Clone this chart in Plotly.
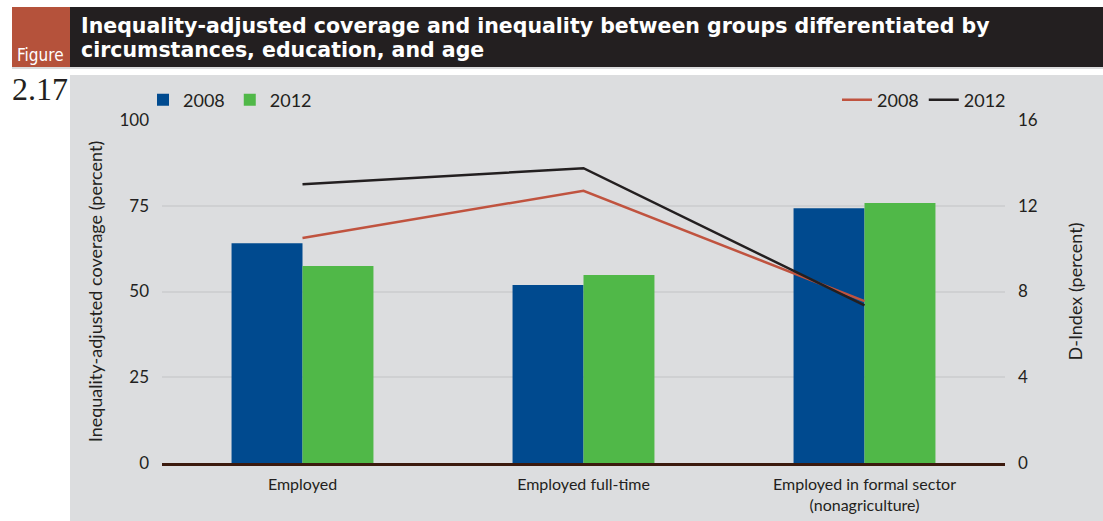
import plotly.graph_objects as go

# ---- data ----
categories = ["Employed", "Employed full-time", "Employed in formal sector<br>(nonagriculture)"]
coverage_2008 = [64.1, 51.9, 74.3]
coverage_2012 = [57.4, 54.8, 75.8]
dindex_2008 = [10.5, 12.7, 7.55]
dindex_2012 = [13.0, 13.75, 7.35]

# ---- layout geometry (pixels) ----
W, H = 1103, 521
PL, PR, PT, PB = 162, 1005, 120, 463


def px(x):
    return (x - PL) / (PR - PL)


def py(y):
    return (PB - y) / (PB - PT)


FONT = "Lato"
TXT = "#231f20"
BLUE = "#004a8f"
GREEN = "#50b848"
RED = "#c0533f"
BLACK = "#231f20"
PANEL = "#dcdddf"
GRID = "#cfd0d2"

fig = go.Figure()
fig.add_trace(go.Bar(x=categories, y=coverage_2008, name="2008", marker_color=BLUE,
                     marker_line_width=0, legend="legend"))
fig.add_trace(go.Bar(x=categories, y=coverage_2012, name="2012", marker_color=GREEN,
                     marker_line_width=0, legend="legend"))
fig.add_trace(go.Scatter(x=categories, y=dindex_2008, name="2008", mode="lines",
                         line=dict(color=RED, width=2.5), yaxis="y2", legend="legend2"))
fig.add_trace(go.Scatter(x=categories, y=dindex_2012, name="2012", mode="lines",
                         line=dict(color=BLACK, width=2.5), yaxis="y2", legend="legend2"))

shapes = [
    dict(type="rect", xref="paper", yref="paper", x0=px(70), x1=px(W), y0=py(H + 5), y1=py(75),
         fillcolor=PANEL, line_width=0, layer="below"),
    dict(type="rect", xref="paper", yref="paper", x0=px(12), x1=px(70), y0=py(67), y1=py(7),
         fillcolor="#b5523b", line_width=0, layer="below"),
    dict(type="rect", xref="paper", yref="paper", x0=px(70), x1=px(W), y0=py(67), y1=py(7),
         fillcolor="#231f20", line_width=0, layer="below"),
    dict(type="line", xref="paper", yref="paper", x0=px(12), x1=px(W), y0=py(68), y1=py(68),
         line=dict(color="#b8b9bb", width=1), layer="below"),
]

TITLE_FONT = dict(family="DejaVu Sans", size=20.5, color="white", weight="bold")
annotations = [
    dict(text="Inequality-adjusted coverage and inequality between groups differentiated by",
         xref="paper", yref="paper", x=px(79), y=py(26), xanchor="left", yanchor="middle",
         showarrow=False, font=TITLE_FONT),
    dict(text="circumstances, education, and age",
         xref="paper", yref="paper", x=px(79), y=py(50), xanchor="left", yanchor="middle",
         showarrow=False, font=TITLE_FONT),
    dict(text="Figure", xref="paper", yref="paper", x=px(41), y=py(55), xanchor="center",
         yanchor="middle", showarrow=False,
         font=dict(family="DejaVu Sans Condensed", size=17, color="white")),
    dict(text="2.17", xref="paper", yref="paper", x=px(10), y=py(89), xanchor="left",
         yanchor="middle", showarrow=False,
         font=dict(family="Liberation Serif", size=32, color=TXT)),
]

fig.update_layout(
    width=W, height=H,
    margin=dict(l=PL, r=W - PR, t=PT, b=H - PB, autoexpand=False),
    paper_bgcolor="white",
    plot_bgcolor=PANEL,
    font=dict(family=FONT, size=16, color=TXT),
    barmode="group", bargap=0.495, bargroupgap=0,
    shapes=shapes,
    annotations=annotations,
    xaxis=dict(showgrid=False, showline=True, linecolor="#3b1a0e", linewidth=2.5,
               ticks="", tickfont=dict(size=16), ticklabelstandoff=5, automargin=False),
    yaxis=dict(range=[0, 100], tickvals=[0, 25, 50, 75, 100], showgrid=True, gridcolor=GRID,
               gridwidth=2, zeroline=False, ticks="", ticklabelstandoff=12,
               tickfont=dict(size=17), automargin=False,
               title=dict(text="Inequality-adjusted coverage (percent)", font=dict(size=18),
                          standoff=12)),
    yaxis2=dict(range=[0, 16], tickvals=[0, 4, 8, 12, 16], overlaying="y", side="right",
                showgrid=False, zeroline=False, ticks="", ticklabelstandoff=12,
                tickfont=dict(size=17), automargin=False,
                title=dict(text="D-Index (percent)", font=dict(size=18), standoff=32)),
    legend=dict(orientation="h", x=px(143), y=py(100), xanchor="left", yanchor="middle",
                bgcolor="rgba(0,0,0,0)", font=dict(size=18), traceorder="normal"),
    legend2=dict(orientation="h", x=px(1011), y=py(100), xanchor="right", yanchor="middle",
                 bgcolor="rgba(0,0,0,0)", font=dict(size=18), traceorder="normal"),
)

fig.write_html("out.html")
